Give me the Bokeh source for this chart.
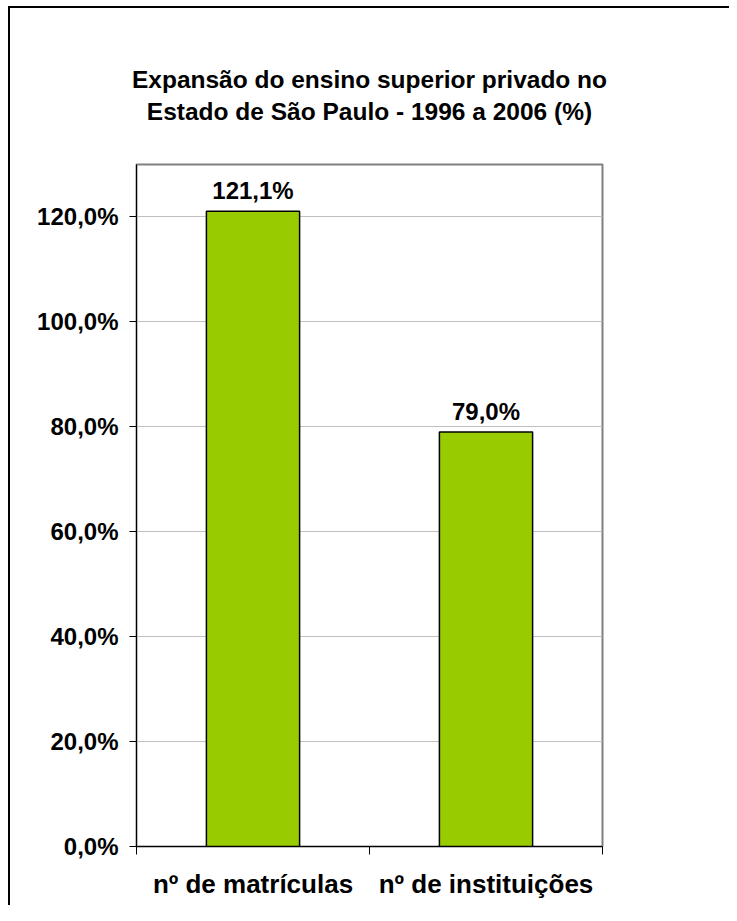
from bokeh.plotting import figure
from bokeh.models import ColumnDataSource, FixedTicker, Range1d, Title
from bokeh.core.properties import value
from bokeh.embed import file_html
from bokeh.resources import INLINE

title_lines = ["Expansão do ensino superior privado no", "Estado de São Paulo - 1996 a 2006 (%)"]
categories = ["nº de matrículas", "nº de instituições"]
values = [121.1, 79.0]
value_labels = ["121,1%", "79,0%"]
y_ticks = [0, 20, 40, 60, 80, 100, 120]
y_tick_labels = ["0,0%", "20,0%", "40,0%", "60,0%", "80,0%", "100,0%", "120,0%"]
y_max = 130

FONT = "Liberation Sans"

positions = [i + 0.5 for i in range(len(categories))]
boundaries = list(range(len(categories) + 1))

src = ColumnDataSource(dict(x=positions, top=values, lab=value_labels))

p = figure(width=729, height=905, output_backend="svg", toolbar_location=None,
           x_range=Range1d(0, len(categories)), y_range=Range1d(0, y_max),
           min_border_left=136, min_border_right=127, min_border_top=164,
           min_border_bottom=59)
p.border_fill_color = None
p.background_fill_color = "white"
# outer chart border: only its top and left edges fall inside the picture
p.styles = {"box-shadow": "inset 8px 6px 0 0 white, inset 10px 8px 0 0 black",
            "background-color": "white"}


def style_title(t):
    t.align = "center"
    t.text_font = FONT
    t.text_font_size = "24.5px"
    t.text_font_style = "bold"
    t.text_color = "black"


p.title.text = title_lines[0]
style_title(p.title)
p.title.standoff = 6

spacer = Title(text=" ")
style_title(spacer)
spacer.standoff = 11
p.add_layout(spacer, "above")

t2 = Title(text=title_lines[1])
style_title(t2)
t2.standoff = 0
p.add_layout(t2, "above")

p.outline_line_color = "#808080"
p.outline_line_width = 2

p.vbar(x="x", top="top", width=0.4, bottom=0, source=src,
       fill_color="#99CC00", line_color="black", line_width=1.5)

p.text(x="x", y="top", text="lab", source=src, text_align="center",
       text_baseline="alphabetic", y_offset=-21, text_font=value(FONT),
       text_font_size="24px", text_font_style="bold", text_color="black")

# y axis
p.yaxis.ticker = FixedTicker(ticks=y_ticks, minor_ticks=[])
p.yaxis.major_label_overrides = {t: l for t, l in zip(y_ticks, y_tick_labels)}
p.yaxis.major_label_text_font = FONT
p.yaxis.major_label_text_font_size = "24px"
p.yaxis.major_label_text_font_style = "bold"
p.yaxis.major_label_text_color = "black"
p.yaxis.major_tick_out = 7
p.yaxis.major_tick_in = 0
p.yaxis.major_label_standoff = 11
p.yaxis.axis_line_color = "black"
p.yaxis.major_tick_line_color = "black"

# x axis
p.xaxis.ticker = FixedTicker(ticks=positions, minor_ticks=boundaries)
p.xaxis.major_label_overrides = {pos: c for pos, c in zip(positions, categories)}
p.xaxis.major_tick_line_color = None
p.xaxis.major_tick_out = 0
p.xaxis.major_tick_in = 0
p.xaxis.minor_tick_line_color = "black"
p.xaxis.minor_tick_out = 8
p.xaxis.minor_tick_in = 0
p.xaxis.axis_line_color = "black"
p.xaxis.major_label_text_font = FONT
p.xaxis.major_label_text_font_size = "26px"
p.xaxis.major_label_text_font_style = "bold"
p.xaxis.major_label_text_color = "black"
p.xaxis.major_label_standoff = 14

p.xgrid.grid_line_color = None
p.ygrid.ticker = FixedTicker(ticks=y_ticks[1:])
p.ygrid.grid_line_color = "#C0C0C0"
p.ygrid.grid_line_width = 1

open("out.html", "w").write(file_html(p, INLINE))
